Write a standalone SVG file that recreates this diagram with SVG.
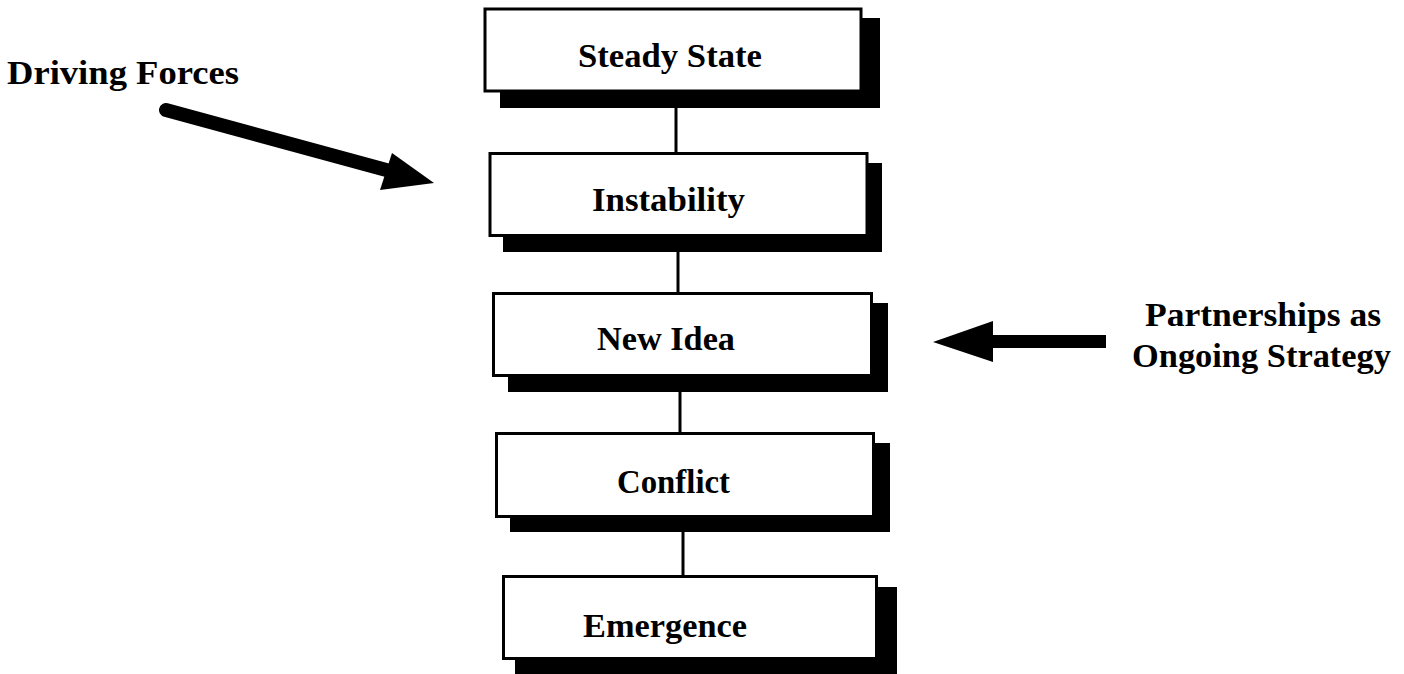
<svg xmlns="http://www.w3.org/2000/svg" width="1404" height="674" viewBox="0 0 1404 674">
  <style>
    .shadow { fill: #000; }
    .box { fill: #fff; stroke: #000; stroke-width: 3; }
    .label { font-family: "Liberation Serif", "Times New Roman", serif; font-weight: bold; font-size: 34px; fill: #000; }
    .link { stroke: #000; stroke-width: 3; fill: none; }
  </style>
  <rect width="1404" height="674" fill="#fff"/>

  <!-- vertical links between stages, plus the two side arrows -->
  <g id="connectors">
    <line class="link" x1="676" y1="108" x2="676" y2="153"/>
    <line class="link" x1="678" y1="252" x2="678" y2="294"/>
    <line class="link" x1="680" y1="392" x2="680" y2="434"/>
    <line class="link" x1="683" y1="532" x2="683" y2="577"/>
    <!-- driving forces arrow -->
    <line x1="166" y1="110" x2="390" y2="171" stroke="#000" stroke-width="14" stroke-linecap="round"/>
    <polygon points="434,183 392,153 380,190" fill="#000"/>
    <!-- partnerships arrow -->
    <rect x="990" y="335" width="116" height="13" fill="#000"/>
    <polygon points="933,342 993,321 993,362" fill="#000"/>
  </g>

  <g id="steady-state">
    <rect class="shadow" x="500" y="18" width="380" height="90"/>
    <rect class="box" x="485" y="9" width="376" height="82"/>
    <text class="label" x="578" y="67" textLength="184" lengthAdjust="spacingAndGlyphs">Steady State</text>
  </g>

  <g id="instability">
    <rect class="shadow" x="503" y="163" width="379" height="89"/>
    <rect class="box" x="490" y="153.5" width="377" height="82"/>
    <text class="label" x="592" y="211" textLength="153" lengthAdjust="spacingAndGlyphs">Instability</text>
  </g>

  <g id="new-idea">
    <rect class="shadow" x="508" y="303" width="380" height="89"/>
    <rect class="box" x="493.5" y="293.5" width="378" height="82"/>
    <text class="label" x="597" y="350" textLength="138" lengthAdjust="spacingAndGlyphs">New Idea</text>
  </g>

  <g id="conflict">
    <rect class="shadow" x="510" y="443" width="380" height="89"/>
    <rect class="box" x="496.5" y="433.5" width="377" height="83"/>
    <text class="label" x="617" y="493" textLength="113" lengthAdjust="spacingAndGlyphs">Conflict</text>
  </g>

  <g id="emergence">
    <rect class="shadow" x="515" y="587" width="382" height="90"/>
    <rect class="box" x="503.5" y="576.5" width="373" height="82"/>
    <text class="label" x="583" y="637" textLength="164" lengthAdjust="spacingAndGlyphs">Emergence</text>
  </g>

  <g id="driving-forces">
    <text class="label" x="7" y="84" textLength="232" lengthAdjust="spacingAndGlyphs">Driving Forces</text>
  </g>

  <g id="partnerships">
    <text class="label" x="1145" y="326" textLength="236" lengthAdjust="spacingAndGlyphs">Partnerships as</text>
    <text class="label" x="1132" y="367" textLength="259" lengthAdjust="spacingAndGlyphs">Ongoing Strategy</text>
  </g>
</svg>
